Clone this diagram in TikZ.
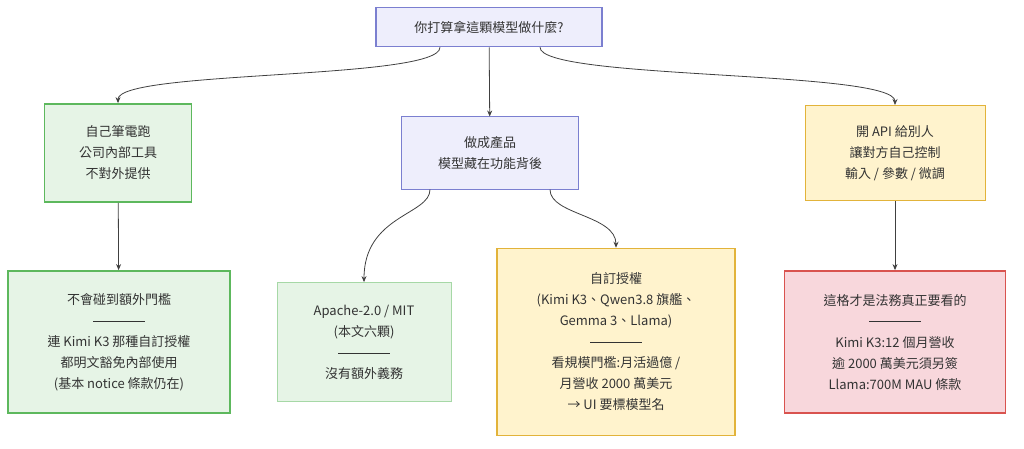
\documentclass[tikz,border=0pt]{standalone}
\usepackage{fontspec}
\setmainfont{Noto Sans CJK TC}
\usetikzlibrary{arrows.meta}
\definecolor{creamFill}{HTML}{FFF3CD}
\definecolor{goldLine}{HTML}{E2B33A}
\definecolor{greenFill}{HTML}{E6F4E6}
\definecolor{greenLine}{HTML}{5DB85D}
\definecolor{redFill}{HTML}{F8D7DC}
\definecolor{redLine}{HTML}{D9534F}
\definecolor{lavFill}{HTML}{EEEEFC}
\definecolor{lavLine}{HTML}{7B7FD0}
\newcommand{\sepline}{\rule[0.3em]{52pt}{0.7pt}}
\begin{document}
\begin{tikzpicture}[x=1pt,y=-1pt,>={Stealth[length=6pt,width=5pt]},
  box/.style={draw,align=center,inner sep=0pt,font=\fontsize{13}{21}\selectfont,text=black!80},
  greenbox/.style={box,fill=greenFill,draw=greenLine,line width=1.8pt},
  paleGreen/.style={box,fill=greenFill,draw=greenLine!55,line width=0.8pt},
  purplebox/.style={box,fill=lavFill,draw=lavLine,line width=1pt},
  yellowbox/.style={box,fill=creamFill,draw=goldLine,line width=1.5pt},
  redbox/.style={box,fill=redFill,draw=redLine,line width=1.8pt},
  link/.style={->,draw=black!75,line width=0.8pt}]
\useasboundingbox (0,0) rectangle (1024,449);
\node[purplebox,minimum width=226pt,minimum height=39pt,line width=1.6pt] (q) at (489,27) {你打算拿這顆模型做什麼?};
\node[greenbox,minimum width=147pt,minimum height=98pt] (self) at (118,153) {自己筆電跑\\公司內部工具\\不對外提供};
\node[purplebox,minimum width=177pt,minimum height=72pt] (prod) at (490,153) {做成產品\\模型藏在功能背後};
\node[yellowbox,minimum width=180pt,minimum height=95pt,line width=1pt] (api) at (895,153) {開 API 給別人\\讓對方自己控制\\輸入 / 參數 / 微調};
\node[greenbox,minimum width=222pt,minimum height=142pt] (nolimit) at (119,342) {不會碰到額外門檻\\\sepline\\連 Kimi K3 那種自訂授權\\都明文豁免內部使用\\(基本 notice 條款仍在)};
\node[paleGreen,minimum width=174pt,minimum height=119pt] (apache) at (364,342) {Apache-2.0 / MIT\\(本文六顆)\\\sepline\\沒有額外義務};
\node[yellowbox,minimum width=238pt,minimum height=187pt] (custom) at (616,342) {自訂授權\\(Kimi K3、Qwen3.8 旗艦、\\Gemma 3、Llama)\\\sepline\\看規模門檻:月活過億 /\\月營收 2000 萬美元\\→ UI 要標模型名};
\node[redbox,minimum width=221pt,minimum height=142pt] (legal) at (895,342) {這格才是法務真正要看的\\\sepline\\Kimi K3:12 個月營收\\逾 2000 萬美元須另簽\\Llama:700M MAU 條款};
% connectors
\draw[link] (q.south -| 440,0) .. controls (440,80) and (118,70) .. (self.north);
\draw[link] (q) -- (prod);
\draw[link] (q.south -| 540,0) .. controls (540,80) and (895,70) .. (api.north);
\draw[link] (self) -- (nolimit);
\draw[link] (api) -- (legal);
\draw[link] (prod.south -| 430,0) .. controls (430,215) and (364,215) .. (apache.north);
\draw[link] (prod.south -| 550,0) .. controls (550,215) and (616,215) .. (custom.north);
\end{tikzpicture}
\end{document}
